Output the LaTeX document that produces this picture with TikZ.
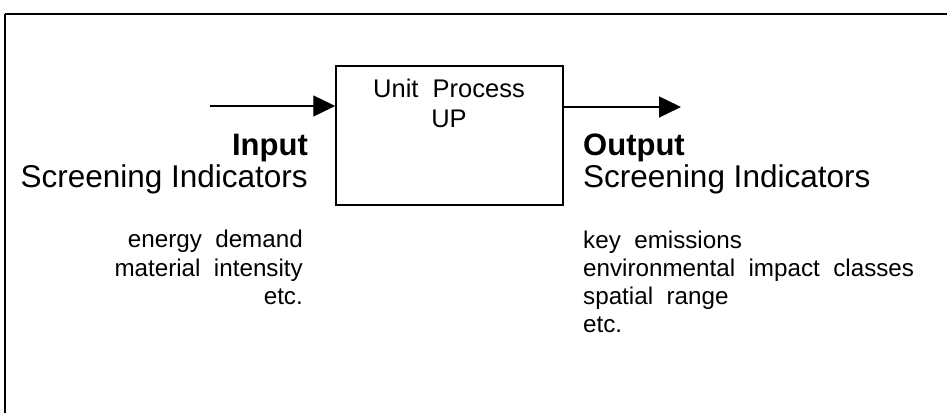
\documentclass[tikz,border=0pt]{standalone}
\usepackage{fontspec}
\setmainfont{Liberation Sans}
\usetikzlibrary{arrows.meta}

\tikzset{
  frameline/.style={line width=1.5pt},
  procbox/.style={draw, line width=1.5pt, minimum width=227pt, minimum height=139pt, inner sep=0pt},
  flow/.style={line width=1.3pt, -{Triangle[length=22pt,width=21pt]}},
  headbold/.style={font=\fontsize{31}{33}\selectfont\bfseries, inner sep=0pt},
  subhead/.style={font=\fontsize{31.5}{34}\selectfont, inner sep=0pt},
  boxtext/.style={font=\fontsize{25.5}{30}\selectfont, inner sep=0pt},
  listtext/.style={font=\fontsize{24.2}{28}\selectfont, inner sep=0pt},
}

\begin{document}
\begin{tikzpicture}[x=1pt, y=-1pt]
  \useasboundingbox (0,0) rectangle (947,412);
  \clip (0,0) rectangle (947,412);

  % outer frame (continues past the right and lower edges)
  \draw[frameline] (5,14) -- (980,14);
  \draw[frameline] (5,14) -- (5,440);

  % unit process box
  \node[procbox] (up) at (449.5,135.5) {};
  \node[boxtext, anchor=base] (uplabel1) at (449,97) {Unit\ \ Process};
  \node[boxtext, anchor=base] (uplabel2) at (449,127) {UP};

  % flows in and out
  \coordinate (inStart) at (210,106);
  \coordinate (outEnd) at (681,107);
  \draw[flow] (inStart) -- (inStart -| up.west);
  \draw[flow] (outEnd -| up.east) -- (outEnd);

  % input side
  \node[headbold, anchor=base east] (inhead) at (308,155) {Input};
  \node[subhead, anchor=base east] (insub) at (308,187) {Screening Indicators};
  \node[listtext, anchor=base east] (in1) at (303,247) {energy\ \ demand};
  \node[listtext, anchor=base east] (in2) at (303,276) {material\ \ intensity};
  \node[listtext, anchor=base east] (in3) at (303,304) {etc.};

  % output side
  \node[headbold, anchor=base west] (outhead) at (583,155) {Output};
  \node[subhead, anchor=base west] (outsub) at (583,187) {Screening Indicators};
  \node[listtext, anchor=base west] (out1) at (583,248) {key\ \ emissions};
  \node[listtext, anchor=base west] (out2) at (583,276) {environmental\ \ impact\ \ classes};
  \node[listtext, anchor=base west] (out3) at (583,304) {spatial\ \ range};
  \node[listtext, anchor=base west] (out4) at (583,332) {etc.};
\end{tikzpicture}
\end{document}
